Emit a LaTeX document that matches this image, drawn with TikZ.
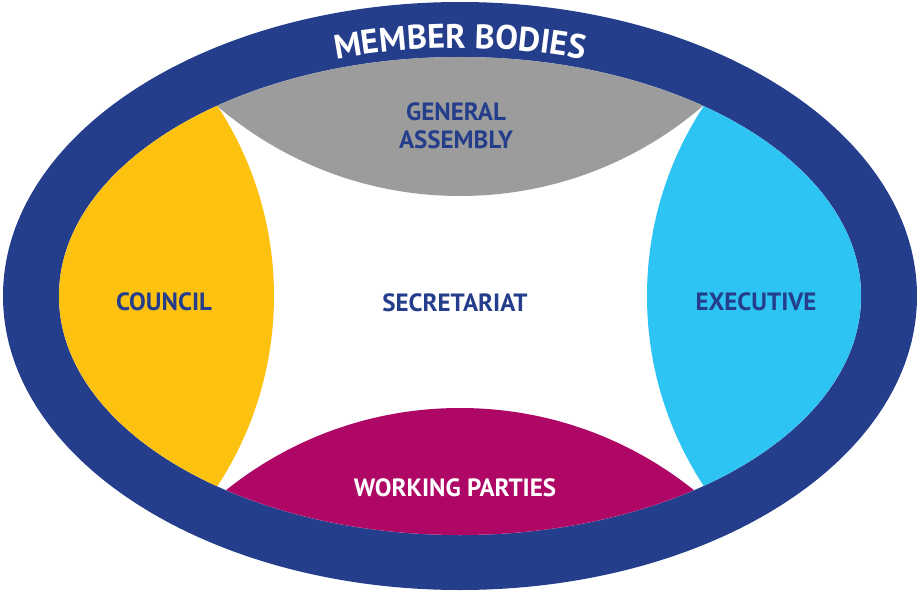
\documentclass[tikz,border=0pt]{standalone}
\usepackage{fontspec}
\setmainfont{PT Sans}
\usetikzlibrary{decorations.text}
\definecolor{bandblue}{RGB}{37,62,140}
\definecolor{gagray}{RGB}{155,156,155}
\definecolor{cyellow}{RGB}{253,194,16}
\definecolor{ecyan}{RGB}{45,195,242}
\definecolor{wpurple}{RGB}{174,7,102}

\begin{document}
\begin{tikzpicture}[x=1pt,y=1pt,
  part/.style={font=\bfseries\fontsize{25}{28}\selectfont,text=bandblue,inner sep=1pt},
  wlab/.style={part,text=white}]
  \useasboundingbox (-460,-296) rectangle (457,296);
  % outer band and the white field inside it
  \fill[bandblue] (0,0) ellipse[x radius=457,y radius=294];
  \fill[white] (0,0) ellipse[x radius=401,y radius=239];
  % the four caps, cut off by circles
  \begin{scope}
    \clip (0,0) ellipse[x radius=401,y radius=239];
    \fill[gagray] (0,472.6) circle[radius=372.6];
    \fill[wpurple] (0,-486) circle[radius=374];
    \fill[cyellow] (-533,0) circle[radius=347];
    \fill[ecyan] (533,0) circle[radius=346];
  \end{scope}
  % band title, set along the top of the band
  \path[decorate,decoration={text along path,text align=center,text color=white,
      text={|\bfseries\fontsize{34}{34}\selectfont|MEMBER BODIES}}]
    (-206,214.8) arc[start angle=120,end angle=60,x radius=412,y radius=248];
  % labels
  \node[part,align=center] (ga) at (-4,170) {GENERAL\\ASSEMBLY};
  \node[part] (council) at (-296,-6) {COUNCIL};
  \node[part] (sec) at (-5,-7) {SECRETARIAT};
  \node[part] (exec) at (296,-6) {EXECUTIVE};
  \node[wlab] (wp) at (-5,-192) {WORKING PARTIES};
\end{tikzpicture}
\end{document}
